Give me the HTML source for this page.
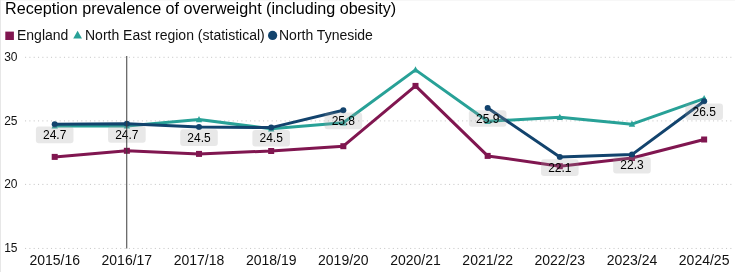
<!DOCTYPE html>
<html><head><meta charset="utf-8"><style>
html,body{margin:0;padding:0;background:#fff;}
body{width:735px;height:272px;overflow:hidden;position:relative;font-family:"Liberation Sans",sans-serif;}
svg{position:absolute;left:0;top:0;will-change:transform;}
.yl{font-size:12px;fill:#111;}
.xl{font-size:14px;fill:#111;}
.dl{font-size:12px;fill:#000;}
.title{position:absolute;left:5px;top:-0.7px;font-size:16.15px;will-change:transform;color:#000;white-space:nowrap;}
.leg{position:absolute;top:27px;font-size:14px;will-change:transform;color:#111;white-space:nowrap;}
</style></head><body>
<svg width="735" height="272" viewBox="0 0 735 272">
<rect x="0" y="0" width="735" height="1" fill="#f7f7f7"/><rect x="0" y="0" width="1" height="272" fill="#e7e7e7"/>
<line x1="25.0" y1="57.3" x2="732" y2="57.3" stroke="#c8c8c8" stroke-width="1" stroke-dasharray="1.1,3.227"/>
<text x="4.2" y="60.9" class="yl">30</text>
<line x1="25.0" y1="120.9" x2="732" y2="120.9" stroke="#c8c8c8" stroke-width="1" stroke-dasharray="1.1,3.227"/>
<text x="4.2" y="124.5" class="yl">25</text>
<line x1="25.0" y1="184.4" x2="732" y2="184.4" stroke="#c8c8c8" stroke-width="1" stroke-dasharray="1.1,3.227"/>
<text x="4.2" y="188.0" class="yl">20</text>
<line x1="25.0" y1="248.45" x2="732" y2="248.45" stroke="#c8c8c8" stroke-width="1" stroke-dasharray="1.1,3.227"/>
<text x="4.2" y="252.0" class="yl">15</text>
<text x="54.70" y="265" class="xl" text-anchor="middle">2015/16</text>
<text x="126.86" y="265" class="xl" text-anchor="middle">2016/17</text>
<text x="199.02" y="265" class="xl" text-anchor="middle">2017/18</text>
<text x="271.18" y="265" class="xl" text-anchor="middle">2018/19</text>
<text x="343.34" y="265" class="xl" text-anchor="middle">2019/20</text>
<text x="415.50" y="265" class="xl" text-anchor="middle">2020/21</text>
<text x="487.66" y="265" class="xl" text-anchor="middle">2021/22</text>
<text x="559.82" y="265" class="xl" text-anchor="middle">2022/23</text>
<text x="631.98" y="265" class="xl" text-anchor="middle">2023/24</text>
<text x="704.14" y="265" class="xl" text-anchor="middle">2024/25</text>
<path d="M54.70,156.90 L126.86,150.80 L199.02,153.90 L271.18,151.00 L343.34,146.20 L415.50,85.90 L487.66,155.90 L559.82,166.20 L631.98,158.00 L704.14,139.50" fill="none" stroke="#801650" stroke-width="3" stroke-linejoin="round" stroke-linecap="round"/>
<rect x="51.70" y="153.90" width="6" height="6" fill="#801650"/>
<rect x="123.86" y="147.80" width="6" height="6" fill="#801650"/>
<rect x="196.02" y="150.90" width="6" height="6" fill="#801650"/>
<rect x="268.18" y="148.00" width="6" height="6" fill="#801650"/>
<rect x="340.34" y="143.20" width="6" height="6" fill="#801650"/>
<rect x="412.50" y="82.90" width="6" height="6" fill="#801650"/>
<rect x="484.66" y="152.90" width="6" height="6" fill="#801650"/>
<rect x="556.82" y="163.20" width="6" height="6" fill="#801650"/>
<rect x="628.98" y="155.00" width="6" height="6" fill="#801650"/>
<rect x="701.14" y="136.50" width="6" height="6" fill="#801650"/>
<path d="M54.70,126.00 L126.86,126.00 L199.02,119.60 L271.18,128.80 L343.34,122.80 L415.50,69.90 L487.66,121.30 L559.82,117.30 L631.98,124.20 L704.14,98.60" fill="none" stroke="#28a197" stroke-width="3" stroke-linejoin="round" stroke-linecap="round"/>
<path d="M54.70,122.40 L57.90,128.60 L51.50,128.60 Z" fill="#28a197"/>
<path d="M126.86,122.40 L130.06,128.60 L123.66,128.60 Z" fill="#28a197"/>
<path d="M199.02,116.00 L202.22,122.20 L195.82,122.20 Z" fill="#28a197"/>
<path d="M271.18,125.20 L274.38,131.40 L267.98,131.40 Z" fill="#28a197"/>
<path d="M343.34,119.20 L346.54,125.40 L340.14,125.40 Z" fill="#28a197"/>
<path d="M415.50,66.30 L418.70,72.50 L412.30,72.50 Z" fill="#28a197"/>
<path d="M487.66,117.70 L490.86,123.90 L484.46,123.90 Z" fill="#28a197"/>
<path d="M559.82,113.70 L563.02,119.90 L556.62,119.90 Z" fill="#28a197"/>
<path d="M631.98,120.60 L635.18,126.80 L628.78,126.80 Z" fill="#28a197"/>
<path d="M704.14,95.00 L707.34,101.20 L700.94,101.20 Z" fill="#28a197"/>
<path d="M54.70,124.30 L126.86,123.80 L199.02,127.00 L271.18,127.60 L343.34,110.30 M487.66,107.90 L559.82,157.00 L631.98,154.60 L704.14,101.20" fill="none" stroke="#12436d" stroke-width="3" stroke-linejoin="round" stroke-linecap="round"/>
<circle cx="54.70" cy="124.30" r="3" fill="#12436d"/>
<circle cx="126.86" cy="123.80" r="3" fill="#12436d"/>
<circle cx="199.02" cy="127.00" r="3" fill="#12436d"/>
<circle cx="271.18" cy="127.60" r="3" fill="#12436d"/>
<circle cx="343.34" cy="110.30" r="3" fill="#12436d"/>
<circle cx="487.66" cy="107.90" r="3" fill="#12436d"/>
<circle cx="559.82" cy="157.00" r="3" fill="#12436d"/>
<circle cx="631.98" cy="154.60" r="3" fill="#12436d"/>
<circle cx="704.14" cy="101.20" r="3" fill="#12436d"/>
<rect x="35.90" y="126.60" width="37.6" height="16.6" rx="3" fill="rgba(160,160,160,0.24)"/>
<text x="54.70" y="139.10" class="dl" text-anchor="middle">24.7</text>
<rect x="108.06" y="126.10" width="37.6" height="16.6" rx="3" fill="rgba(160,160,160,0.24)"/>
<text x="126.86" y="138.60" class="dl" text-anchor="middle">24.7</text>
<rect x="180.22" y="129.30" width="37.6" height="16.6" rx="3" fill="rgba(160,160,160,0.24)"/>
<text x="199.02" y="141.80" class="dl" text-anchor="middle">24.5</text>
<rect x="252.38" y="129.90" width="37.6" height="16.6" rx="3" fill="rgba(160,160,160,0.24)"/>
<text x="271.18" y="142.40" class="dl" text-anchor="middle">24.5</text>
<rect x="324.54" y="112.60" width="37.6" height="16.6" rx="3" fill="rgba(160,160,160,0.24)"/>
<text x="343.34" y="125.10" class="dl" text-anchor="middle">25.8</text>
<rect x="468.86" y="110.20" width="37.6" height="16.6" rx="3" fill="rgba(160,160,160,0.24)"/>
<text x="487.66" y="122.70" class="dl" text-anchor="middle">25.9</text>
<rect x="541.02" y="159.30" width="37.6" height="16.6" rx="3" fill="rgba(160,160,160,0.24)"/>
<text x="559.82" y="171.80" class="dl" text-anchor="middle">22.1</text>
<rect x="613.18" y="156.90" width="37.6" height="16.6" rx="3" fill="rgba(160,160,160,0.24)"/>
<text x="631.98" y="169.40" class="dl" text-anchor="middle">22.3</text>
<rect x="685.34" y="103.50" width="37.6" height="16.6" rx="3" fill="rgba(160,160,160,0.24)"/>
<text x="704.14" y="116.00" class="dl" text-anchor="middle">26.5</text>
<line x1="126.75" y1="56" x2="126.75" y2="248.5" stroke="#3c3c3c" stroke-width="1"/>
<rect x="5.3" y="31.6" width="8.6" height="8.4" fill="#801650"/>
<path d="M77.6,30.8 L82,38.6 L73.2,38.6 Z" fill="#28a197"/>
<circle cx="272.6" cy="35.4" r="4.6" fill="#12436d"/>
</svg>
<div class="title">Reception prevalence of overweight (including obesity)</div>
<div class="leg" style="left:16.5px">England</div>
<div class="leg" style="left:84.7px">North East region (statistical)</div>
<div class="leg" style="left:278.8px">North Tyneside</div>
</body></html>
